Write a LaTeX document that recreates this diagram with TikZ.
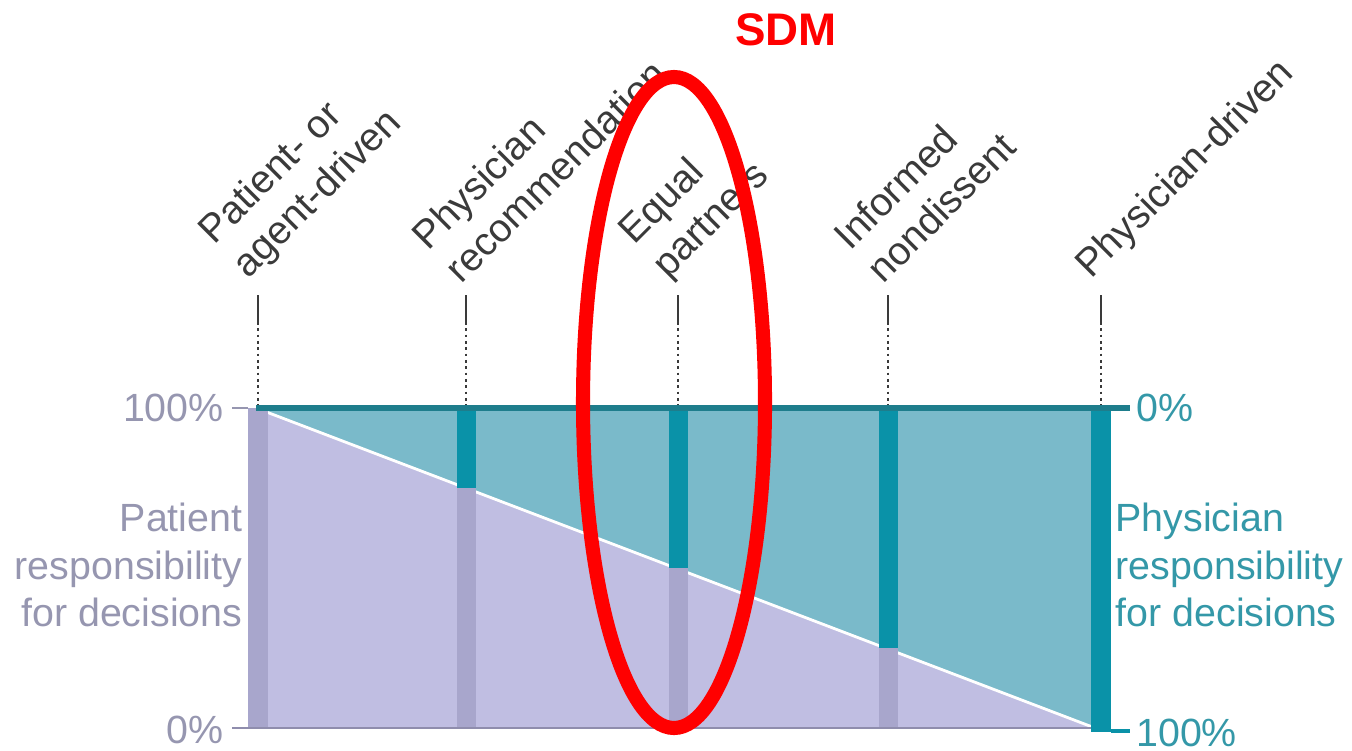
\documentclass[tikz,border=0pt]{standalone}
\usepackage{fontspec}
\setmainfont{Liberation Sans}
\usepackage{xcolor}
\usetikzlibrary{calc,positioning}
\definecolor{pfill}{RGB}{192,190,226}
\definecolor{pbar}{RGB}{168,166,204}
\definecolor{tfill}{RGB}{122,186,202}
\definecolor{tbar}{RGB}{10,146,168}
\definecolor{tline}{RGB}{30,125,140}
\definecolor{plab}{RGB}{150,150,176}
\definecolor{tlab}{RGB}{52,152,168}
\definecolor{glab}{RGB}{58,58,58}
\begin{document}
\begin{tikzpicture}[
  every node/.style={font=\fontsize{11.2pt}{13.4pt}\selectfont},
  lab/.style={inner sep=0pt,rotate=45,anchor=south west,align=left,text=glab},
  pct/.style={inner sep=1pt},
  guide/.style={glab,line width=0.8pt}]
 \useasboundingbox (0,0) rectangle (13.52,7.50);
 % areas
 \coordinate (TL) at (2.56,3.42);
 \coordinate (TR) at (11.01,3.42);
 \coordinate (BR) at (10.95,0.22);
 \coordinate (BL) at (2.48,0.22);
 \fill[tfill] (TL) -- (TR) -- (11.01,0.22) -- (BR) -- cycle;
 \fill[pfill] (2.48,3.42) -- (TL) -- (BR) -- (BL) -- cycle;
 \draw[white,line width=0.8pt] (TL) -- (BR);
 % bars
 \fill[pbar] (2.48,3.42) rectangle (2.68,0.22);
 \foreach \c/\f in {4.66/0.25,6.78/0.5,8.88/0.75}{
   \fill[tbar] (\c-0.095,3.42) rectangle (\c+0.095,3.42-3.2*\f);
   \fill[pbar] (\c-0.095,3.42-3.2*\f) rectangle (\c+0.095,0.22);
 }
 \fill[tbar] (10.91,3.42) rectangle (11.11,0.18);
 \draw[pbar!85!black,line width=0.6pt] (2.32,0.22) -- (10.91,0.22);
 \draw[plab,line width=0.8pt] (2.32,3.42) -- (2.48,3.42);
 \draw[tline,line width=1.6pt] (2.56,3.42) -- (11.30,3.42);
 \draw[tbar,line width=1.2pt] (11.11,0.19) -- (11.30,0.19);
 % axis labels
 \node[pct,anchor=east,text=plab] (p100) at (2.28,3.42) {100\%};
 \node[pct,anchor=east,text=plab] (p0) at (2.28,0.20) {0\%};
 \node[pct,anchor=west,text=tlab] (d0) at (11.32,3.42) {0\%};
 \node[pct,anchor=west,text=tlab] (d100) at (11.32,0.17) {100\%};
 \node[anchor=east,align=right,text=plab,inner sep=0pt] (pat) at (2.43,1.85)
   {Patient\\responsibility\\for decisions};
 \node[anchor=west,align=left,text=tlab,inner sep=0pt] (phy) at (11.15,1.85)
   {Physician\\responsibility\\for decisions};
 % columns
 \foreach \n/\c/\t in {a/2.58/{Patient- or\\agent-driven},
                      b/4.66/{Physician\\recommendation},
                      c/6.78/{Equal\\partners},
                      d/8.88/{Informed\\nondissent},
                      e/11.01/{Physician-driven}}{
   \coordinate (\n top) at (\c,4.55);
   \coordinate (\n mid) at (\c,4.28);
   \coordinate (\n bot) at (\c,3.45);
   \draw[guide] (\n top) -- (\n mid);
   \draw[guide,densely dotted] (\n mid) -- (\n bot);
   \node[lab] (\n lab) at (\c-0.04,4.64) {\t};
 }
 % SDM
 \draw[red,line width=4pt] (6.74,3.475) ellipse [x radius=0.91,y radius=3.255];
 \node[text=red,font=\fontsize{13pt}{15pt}\selectfont\bfseries] (sdm) at (7.86,7.20) {SDM};
\end{tikzpicture}
\end{document}
